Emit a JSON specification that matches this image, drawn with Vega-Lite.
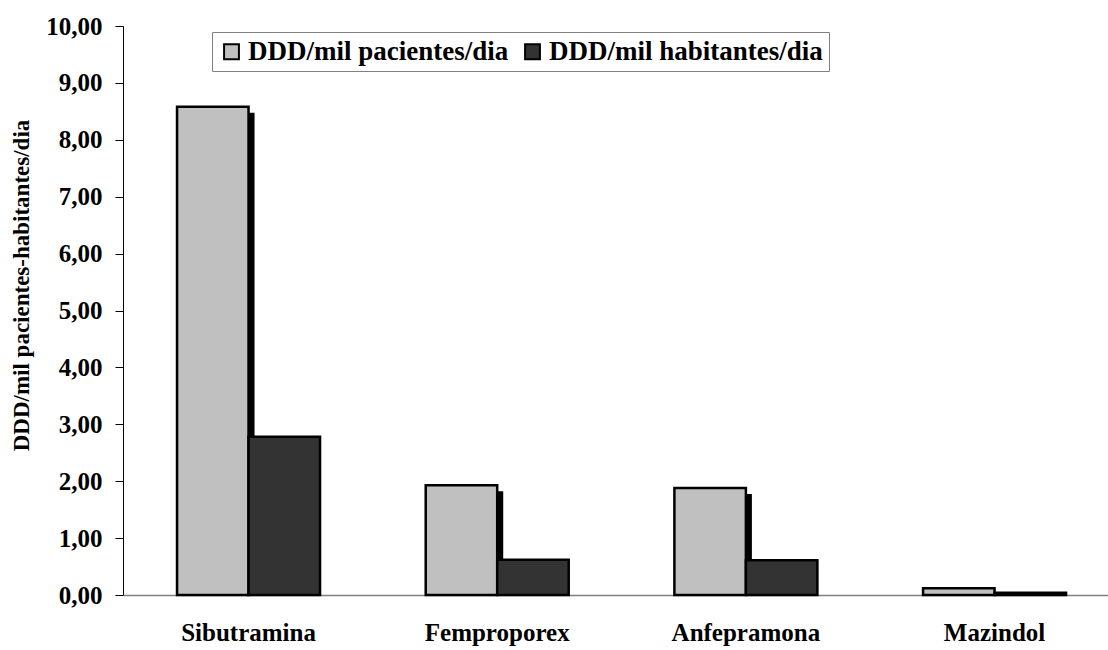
{
  "$schema": "https://vega.github.io/schema/vega-lite/v6.json",
  "width": 985,
  "height": 569,
  "autosize": {"type": "none"},
  "padding": {"left": 123, "top": 26, "right": 0, "bottom": 55},
  "background": "white",
  "config": {
    "view": {"stroke": null},
    "font": "Liberation Serif"
  },
  "data": {
    "values": [
      {"droga": "Sibutramina", "serie": "DDD/mil pacientes/dia", "valor": 8.58},
      {"droga": "Sibutramina", "serie": "DDD/mil habitantes/dia", "valor": 2.78},
      {"droga": "Femproporex", "serie": "DDD/mil pacientes/dia", "valor": 1.93},
      {"droga": "Femproporex", "serie": "DDD/mil habitantes/dia", "valor": 0.62},
      {"droga": "Anfepramona", "serie": "DDD/mil pacientes/dia", "valor": 1.88},
      {"droga": "Anfepramona", "serie": "DDD/mil habitantes/dia", "valor": 0.61},
      {"droga": "Mazindol", "serie": "DDD/mil pacientes/dia", "valor": 0.12},
      {"droga": "Mazindol", "serie": "DDD/mil habitantes/dia", "valor": 0.04}
    ]
  },
  "encoding": {
    "x": {
      "field": "droga",
      "type": "nominal",
      "sort": ["Sibutramina", "Femproporex", "Anfepramona", "Mazindol"],
      "scale": {"paddingInner": 0.425, "paddingOuter": 0.193, "align": 0.563},
      "axis": {
        "title": null,
        "labelAngle": 0,
        "labelFont": "Liberation Serif",
        "labelFontSize": 25,
        "labelFontWeight": "bold",
        "labelColor": "black",
        "labelPadding": 25,
        "ticks": false,
        "domainColor": "#808080",
        "domainWidth": 1.5
      }
    },
    "y": {
      "field": "valor",
      "type": "quantitative",
      "scale": {"domain": [0, 10], "nice": false},
      "axis": {
        "title": "DDD/mil pacientes-habitantes/dia",
        "titleFont": "Liberation Serif",
        "titleFontSize": 23,
        "titleFontWeight": "bold",
        "titleColor": "black",
        "titlePadding": 12,
        "titleY": 259,
        "values": [0, 1, 2, 3, 4, 5, 6, 7, 8, 9, 10],
        "labelExpr": "replace(format(datum.value, '.2f'), '.', ',')",
        "labelFont": "Liberation Serif",
        "labelFontSize": 25,
        "labelFontWeight": "bold",
        "labelColor": "black",
        "labelPadding": 13,
        "grid": false,
        "tickColor": "black",
        "tickSize": 8,
        "domainColor": "black",
        "domainWidth": 1
      }
    }
  },
  "resolve": {"scale": {"xOffset": "independent"}},
  "layer": [
    {
      "transform": [{"filter": "datum.serie === 'DDD/mil pacientes/dia'"}],
      "mark": {"type": "bar", "color": "black", "yOffset": 6, "y2Offset": 0, "clip": true},
      "encoding": {
        "xOffset": {
          "field": "serie",
          "type": "nominal",
          "scale": {
            "domain": ["DDD/mil pacientes/dia", "DDD/mil habitantes/dia"],
            "range": [6, 149],
            "paddingInner": 0,
            "paddingOuter": 0
          }
        }
      }
    },
    {
      "mark": {"type": "bar", "stroke": "black", "strokeWidth": 2.5},
      "encoding": {
        "xOffset": {
          "field": "serie",
          "type": "nominal",
          "sort": ["DDD/mil pacientes/dia", "DDD/mil habitantes/dia"],
          "scale": {"paddingInner": 0, "paddingOuter": 0}
        },
        "color": {
          "field": "serie",
          "type": "nominal",
          "scale": {
            "domain": ["DDD/mil pacientes/dia", "DDD/mil habitantes/dia"],
            "range": ["#c0c0c0", "#333333"]
          },
          "legend": {
            "title": null,
            "orient": "none",
            "legendX": 89,
            "legendY": 6,
            "direction": "horizontal",
            "columns": 2,
            "labelFont": "Liberation Serif",
            "labelFontSize": 27,
            "labelFontWeight": "bold",
            "labelColor": "black",
            "labelLimit": 400,
            "symbolType": "square",
            "symbolSize": 220,
            "symbolStrokeColor": "black",
            "symbolStrokeWidth": 2,
            "columnPadding": 10,
            "labelOffset": 3,
            "strokeColor": "#808080",
            "padding": 6,
            "fillColor": "white"
          }
        }
      }
    }
  ]
}
